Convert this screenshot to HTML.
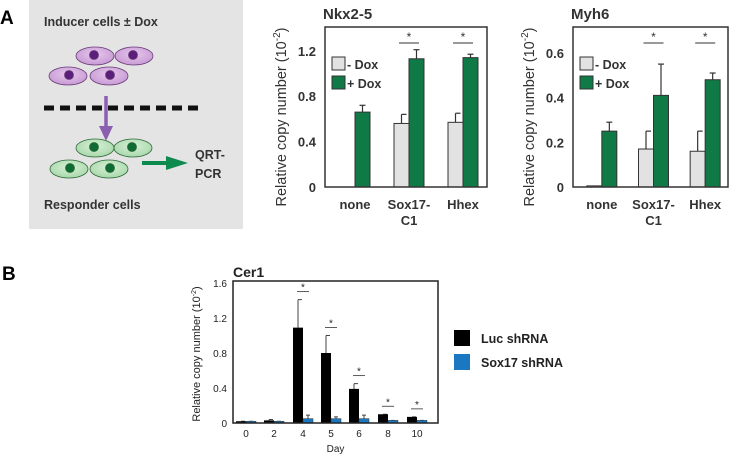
<!DOCTYPE html>
<html><head><meta charset="utf-8"><style>
body{margin:0;background:#fff;}
svg{display:block;font-family:"Liberation Sans",Arial,sans-serif;}
</style></head><body>
<svg id="fig" width="734" height="457" viewBox="0 0 734 457">
<defs>
<radialGradient id="pc" cx="50%" cy="40%" r="60%"><stop offset="0" stop-color="#e6c8ec"/><stop offset="1" stop-color="#c79ad4"/></radialGradient>
<radialGradient id="gc" cx="50%" cy="40%" r="60%"><stop offset="0" stop-color="#d6f0d6"/><stop offset="1" stop-color="#a9d8ab"/></radialGradient>
</defs>
<text x="0" y="24" font-size="19" font-weight="bold">A</text>
<text x="2" y="280" font-size="19" font-weight="bold">B</text>
<g>
<rect x="29" y="0" width="214" height="229" fill="#e4e4e4"/>
<text x="44" y="26" font-size="12.5" font-weight="bold" fill="#333">Inducer cells ± Dox</text>
<g stroke="#6a3a78" stroke-width="0.8">
<ellipse cx="95" cy="56" rx="19" ry="9" fill="url(#pc)"/><circle cx="94" cy="55" r="4.5" fill="#5a1f7a"/>
<ellipse cx="134" cy="56" rx="19" ry="9" fill="url(#pc)"/><circle cx="133" cy="55" r="4.5" fill="#5a1f7a"/>
<ellipse cx="68" cy="76" rx="19" ry="9" fill="url(#pc)"/><circle cx="69" cy="75" r="4.5" fill="#5a1f7a"/>
<ellipse cx="109" cy="76" rx="19" ry="9" fill="url(#pc)"/><circle cx="110" cy="75" r="4.5" fill="#5a1f7a"/>
</g>
<line x1="44" y1="108" x2="204" y2="108" stroke="#111" stroke-width="5" stroke-dasharray="10,6"/>
<line x1="106" y1="96" x2="106" y2="128" stroke="#8b5fb0" stroke-width="3.5"/>
<polygon points="99,126 113,126 106,141" fill="#8b5fb0"/>
<g stroke="#2e6b38" stroke-width="0.8">
<ellipse cx="95" cy="148" rx="19" ry="9" fill="url(#gc)"/><circle cx="94" cy="147" r="4.5" fill="#0d6b33"/>
<ellipse cx="133" cy="148" rx="19" ry="9" fill="url(#gc)"/><circle cx="132" cy="147" r="4.5" fill="#0d6b33"/>
<ellipse cx="69" cy="169" rx="19" ry="9" fill="url(#gc)"/><circle cx="70" cy="168" r="4.5" fill="#0d6b33"/>
<ellipse cx="109" cy="169" rx="19" ry="9" fill="url(#gc)"/><circle cx="110" cy="168" r="4.5" fill="#0d6b33"/>
</g>
<line x1="142" y1="163" x2="168" y2="163" stroke="#0f8a4f" stroke-width="4"/>
<polygon points="166,156 188,163 166,170" fill="#0f8a4f"/>
<text x="195" y="159" font-size="12.5" font-weight="bold" fill="#333">QRT-</text>
<text x="195" y="178" font-size="12.5" font-weight="bold" fill="#333">PCR</text>
<text x="44" y="209" font-size="12.5" font-weight="bold" fill="#333">Responder cells</text>
</g>
<g id="nkx"></g>
<g id="myh"></g>
<g id="cer"></g>
</svg>
<script>
const NS="http://www.w3.org/2000/svg";
// Nkx2-5 data
const nkxCategories=["none","Sox17-C1","Hhex"];
const nkxMinus=[null,0.56,0.57];
const nkxMinusErr=[null,0.64,0.65];
const nkxPlus=[0.66,1.13,1.14];
const nkxPlusErr=[0.72,1.21,1.17];
const nkxTicks=[0,0.4,0.8,1.2];
// Myh6 data
const myhCategories=["none","Sox17-C1","Hhex"];
const myhMinus=[0.005,0.17,0.16];
const myhMinusErr=[null,0.25,0.25];
const myhPlus=[0.25,0.41,0.48];
const myhPlusErr=[0.29,0.55,0.51];
const myhTicks=[0,0.2,0.4,0.6];
// Cer1 data
const cerDays=["0","2","4","5","6","8","10"];
const cerLuc=[0.02,0.03,1.09,0.80,0.39,0.10,0.07];
const cerLucErr=[0.02,0.04,1.41,1.00,0.45,0.10,0.07];
const cerSox=[0.02,0.02,0.05,0.05,0.05,0.03,0.03];
const cerSoxErr=[0.02,0.02,0.09,0.07,0.09,0.03,0.03];
const cerTicks=[0,0.4,0.8,1.2,1.6];
const cerTickLabels=["0","0.4","0.8","1.2","1.6"];

function el(p,t,a,txt){const e=document.createElementNS(NS,t);for(const k in a)e.setAttribute(k,a[k]);if(txt!==undefined)e.textContent=txt;p.appendChild(e);return e;}

function panelA(g,title,cats,minus,minusErr,plus,plusErr,ticks,box,ymax,stars){
  const [x0,y0,x1,y1]=box;
  const y=v=>y1-(v/ymax)*(y1-y0);
  const t=el(g,"text",{x:x0-2,y:y0-8,"font-size":15,"font-weight":"bold",fill:"#333"},title);
  
  
  const gw=(x1-x0)/3;
  cats.forEach((c,i)=>{
    const cx=x0+gw*(i+0.5)+3, bw=15;
    if(minus[i]!==null){
      if(minusErr[i]!==null){el(g,"line",{x1:cx-bw/2,x2:cx-bw/2,y1:y(minus[i]),y2:y(minusErr[i]),stroke:"#333","stroke-width":1.2});el(g,"line",{x1:cx-bw/2,x2:cx-bw/2+5,y1:y(minusErr[i]),y2:y(minusErr[i]),stroke:"#333","stroke-width":1.2});}
      const r=el(g,"rect",{x:cx-bw,y:y(minus[i]),width:bw,height:y1-y(minus[i]),fill:"#e2e2e2",stroke:"#333","stroke-width":1});
      
      
    }
    el(g,"line",{x1:cx+bw/2,x2:cx+bw/2,y1:y(plus[i]),y2:y(plusErr[i]),stroke:"#333","stroke-width":1.2});
    el(g,"line",{x1:cx+bw/2-3,x2:cx+bw/2+3,y1:y(plusErr[i]),y2:y(plusErr[i]),stroke:"#333","stroke-width":1.2});
    const r2=el(g,"rect",{x:cx,y:y(plus[i]),width:bw,height:y1-y(plus[i]),fill:"#0f7a45",stroke:"#333","stroke-width":1});
    
    
    const lines=c.split("-");
    const l=el(g,"text",{x:cx,y:y1+22,"font-size":13,"font-weight":"bold",fill:"#333","text-anchor":"middle"},lines.length>1?lines[0]+"-":c);
    
    
    if(lines.length>1)el(g,"text",{x:cx,y:y1+38,"font-size":13,"font-weight":"bold",fill:"#333","text-anchor":"middle"},lines[1]);
    if(stars[i]){
      el(g,"line",{x1:cx-10,x2:cx+10,y1:y0+16,y2:y0+16,stroke:"#333","stroke-width":1});
      el(g,"text",{x:cx,y:y0+14,"font-size":12,"text-anchor":"middle",fill:"#333"},"*");
    }
  });
  ticks.forEach(v=>{
    const tl=el(g,"text",{x:x0-9,y:y(v)+5,"font-size":13,"font-weight":"bold",fill:"#333","text-anchor":"end"},String(v));
    
    
  });
  const fr=el(g,"rect",{x:x0,y:y0,width:x1-x0,height:y1-y0,fill:"none",stroke:"#333","stroke-width":1.5});
  
  
  const ya=el(g,"text",{transform:`translate(${x0-39},${(y0+y1)/2+10}) rotate(-90)`,"font-size":14.5,fill:"#333","text-anchor":"middle"});
  
  
  ya.innerHTML='Relative copy number (10<tspan dy="-6" font-size="10">-2</tspan><tspan dy="6">)</tspan>';
  const lg=el(g,"g",{});
  
  
  el(lg,"rect",{x:x0+7,y:y0+30,width:13,height:13,fill:"#e2e2e2",stroke:"#333"});
  el(lg,"text",{x:x0+22,y:y0+42,"font-size":12.5,"font-weight":"bold",fill:"#333"},"- Dox");
  el(lg,"rect",{x:x0+7,y:y0+49,width:13,height:13,fill:"#0f7a45",stroke:"#333"});
  el(lg,"text",{x:x0+22,y:y0+61,"font-size":12.5,"font-weight":"bold",fill:"#333"},"+ Dox");
}
panelA(document.getElementById("nkx"),"Nkx2-5",nkxCategories,nkxMinus,nkxMinusErr,nkxPlus,nkxPlusErr,nkxTicks,[325,27,487,187],1.41,[0,1,1]);
panelA(document.getElementById("myh"),"Myh6",myhCategories,myhMinus,myhMinusErr,myhPlus,myhPlusErr,myhTicks,[573,27,728,187],0.716,[0,1,1]);

(function(){
  const g=document.getElementById("cer");
  const x0=233,y0=281,x1=438,y1=423,ymax=1.6;
  const y=v=>y1-(v/ymax)*(y1-283)*1;
  const centers=[246,274,303,331,359,388,417];
  const xs=i=>x0+(x1-x0)*((centers[i]-x0)/(x1-x0));
  el(g,"text",{x:233,y:277,"font-size":14,"font-weight":"bold",fill:"#222"},"Cer1");
  cerDays.forEach((d,i)=>{
    const cx=xs(i),bw=10;
    el(g,"line",{x1:cx-bw/2,x2:cx-bw/2,y1:y(cerLuc[i]),y2:y(cerLucErr[i]),stroke:"#444","stroke-width":1});
    el(g,"line",{x1:cx-bw/2,x2:cx-bw/2+4,y1:y(cerLucErr[i]),y2:y(cerLucErr[i]),stroke:"#444","stroke-width":1});
    const b=el(g,"rect",{x:cx-bw,y:y(cerLuc[i]),width:bw,height:y1-y(cerLuc[i]),fill:"#000"});
    
    
    el(g,"line",{x1:cx+bw/2,x2:cx+bw/2,y1:y(cerSox[i]),y2:y(cerSoxErr[i]),stroke:"#444","stroke-width":1});
    el(g,"line",{x1:cx+bw/2-2,x2:cx+bw/2+2,y1:y(cerSoxErr[i]),y2:y(cerSoxErr[i]),stroke:"#444","stroke-width":1});
    const s=el(g,"rect",{x:cx,y:y(cerSox[i]),width:bw,height:y1-y(cerSox[i]),fill:"#1a78c2",stroke:"#333","stroke-width":0.5});
    
    
    const t=el(g,"text",{x:cx,y:y1+14,"font-size":10,fill:"#222","text-anchor":"middle"},d);
    
    
    if(i>=2){
      const sy=y(cerLucErr[i])-8;
      el(g,"line",{x1:cx-6,x2:cx+6,y1:sy,y2:sy,stroke:"#333","stroke-width":0.8});
      el(g,"text",{x:cx,y:sy-1,"font-size":10,"text-anchor":"middle",fill:"#222"},"*");
    }
  });
  cerTicks.forEach((v,i)=>{
    const t=el(g,"text",{x:x0-6,y:y(v)+4,"font-size":10,fill:"#222","text-anchor":"end"},cerTickLabels[i]);
    
    
  });
  const fr=el(g,"rect",{x:x0,y:y0,width:x1-x0,height:y1-y0,fill:"none",stroke:"#222","stroke-width":1.5});
  
  
  const xt=el(g,"text",{x:(x0+x1)/2,y:452,"font-size":10,fill:"#222","text-anchor":"middle"},"Day");
  
  
  const ya=el(g,"text",{transform:`translate(200,${(y0+y1)/2+2}) rotate(-90)`,"font-size":11,fill:"#222","text-anchor":"middle"});
  
  
  ya.innerHTML='Relative copy number (10<tspan dy="-4" font-size="7">-2</tspan><tspan dy="4">)</tspan>';
  const lg=el(g,"g",{});
  
  
  el(lg,"rect",{x:454,y:330,width:16,height:16,fill:"#000"});
  el(lg,"text",{x:481,y:343,"font-size":12.5,"font-weight":"bold",fill:"#222"},"Luc shRNA");
  el(lg,"rect",{x:454,y:354,width:16,height:16,fill:"#1a78c2"});
  el(lg,"text",{x:481,y:367,"font-size":12.5,"font-weight":"bold",fill:"#222"},"Sox17 shRNA");
})();
</script>
</body></html>
